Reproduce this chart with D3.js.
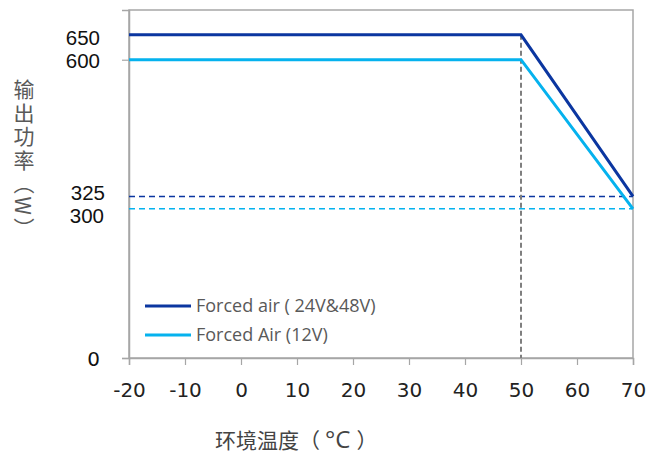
<!DOCTYPE html>
<html><head><meta charset="utf-8">
<script src="https://cdn.jsdelivr.net/npm/d3@7"></script>
<style>body{margin:0;background:#fff}svg{display:block}</style>
</head><body>
<svg id="c" width="648" height="454"></svg>
<script>
const xTicks = [-20,-10,0,10,20,30,40,50,60,70];
const yTickMarks = [0,600];
const yLabels = [650,600,325,300,0];
const seriesNames = ["Forced air ( 24V&48V)", "Forced Air (12V)"];
const tempPoints = [-20,50,70];
const power24_48 = [650,650,325];
const power12 = [600,600,300];
const deratingTemp = 50;
const xTitleParts = ["环境温度（", "°C", "）"];
const yTitle = "输出功率（W）";

const svg = d3.select("#c");
const L=129, R=633, T=10, B=358;
const x = d3.scaleLinear().domain([-20,70]).range([L,R]);
const y = d3.scaleLinear().domain([0,700]).range([B,T]);
const colors = ["#0b36a0","#05b2ee"];
const grey = "#a6a6a6";

// plot border
svg.append("rect").attr("x",L).attr("y",T).attr("width",R-L).attr("height",B-T)
  .attr("fill","none").attr("stroke",grey).attr("stroke-width",1.5);

// x axis
const xa = svg.append("g").attr("transform",`translate(0,${B})`)
  .call(d3.axisBottom(x).tickValues(xTicks).tickSize(7).tickPadding(18).tickFormat(d=>String(d)));
xa.select(".domain").attr("stroke",grey).attr("stroke-width",1.5);
xa.selectAll(".tick line").attr("stroke",grey).attr("stroke-width",1.2);
xa.selectAll(".tick text").attr("font-family","DejaVu Sans").attr("font-size",20).attr("fill","#222");

// y axis ticks
const ya = svg.append("g").attr("transform",`translate(${L},0)`)
  .call(d3.axisLeft(y).tickValues(yTickMarks).tickSize(7).tickFormat(""));
ya.select(".domain").attr("stroke",grey).attr("stroke-width",1.5);
ya.selectAll(".tick line").attr("stroke",grey).attr("stroke-width",1.2);

// y labels (text boxes, offset for legibility)
const labelDy = {650:10, 600:8.3, 325:3.6, 300:14.1, 0:8};
const labelRight = {650:100, 600:100, 325:105, 300:104, 0:100};
svg.append("g").selectAll("text").data(yLabels).join("text")
  .attr("x",d=>labelRight[d]).attr("y",d=>y(d)+labelDy[d])
  .attr("text-anchor","end")
  .attr("font-family", d=> d===0 ? "DejaVu Sans" : "Liberation Sans")
  .attr("font-size",d=> d===0 ? 20 : 20.5).attr("fill","#111")
  .text(d=>d);

// dashed reference lines
svg.append("line").attr("x1",L).attr("x2",R).attr("y1",y(power24_48[2])).attr("y2",y(power24_48[2]))
  .attr("stroke",colors[0]).attr("stroke-width",1.5).attr("stroke-dasharray","6,4");
svg.append("line").attr("x1",L).attr("x2",R).attr("y1",y(power12[2])).attr("y2",y(power12[2]))
  .attr("stroke",colors[1]).attr("stroke-width",1.5).attr("stroke-dasharray","6,4");
svg.append("line").attr("x1",x(deratingTemp)).attr("x2",x(deratingTemp))
  .attr("y1",y(power24_48[1])).attr("y2",y(0))
  .attr("stroke","#7f7f7f").attr("stroke-width",2).attr("stroke-dasharray","5,3");

// series
const line = d3.line().x(d=>x(d[0])).y(d=>y(d[1]));
[power24_48, power12].forEach((vals,i)=>{
  svg.append("path").datum(tempPoints.map((t,j)=>[t,vals[j]]))
    .attr("d",line).attr("fill","none").attr("stroke",colors[i]).attr("stroke-width",3);
});

// legend
const lg = svg.append("g");
seriesNames.forEach((n,i)=>{
  const ly = 306 + i*29;
  lg.append("line").attr("x1",145).attr("x2",191).attr("y1",ly).attr("y2",ly)
    .attr("stroke",colors[i]).attr("stroke-width",3);
  lg.append("text").attr("x",196).attr("y",ly+6).attr("font-family","Open Sans")
    .attr("font-size",18).attr("fill","#595959").text(n);
});

// titles
const xt = svg.append("text").attr("x",215).attr("y",448)
  .attr("font-family","Noto Sans CJK SC").attr("font-size",21).attr("fill","#444");
xt.append("tspan").text(xTitleParts[0]);
xt.append("tspan").attr("dx",5).attr("font-family","Open Sans").attr("font-size",24).text(xTitleParts[1]);
xt.append("tspan").attr("dx",6).text(xTitleParts[2]);

svg.append("text").attr("x",24).attr("y",79)
  .attr("font-family","Noto Sans CJK SC").attr("font-size",21).attr("fill","#595959")
  .attr("letter-spacing",2.5)
  .style("writing-mode","vertical-rl").style("text-orientation","mixed").text(yTitle);
</script>
</body></html>
